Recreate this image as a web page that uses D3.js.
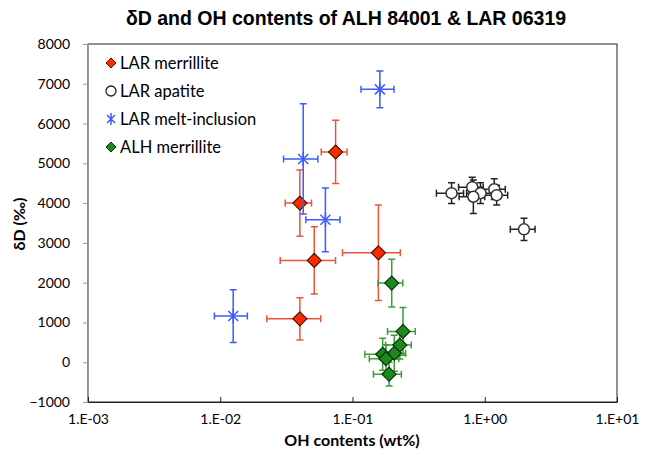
<!DOCTYPE html>
<html>
<head>
<meta charset="utf-8">
<script src="https://cdn.jsdelivr.net/npm/d3@7"></script>
<style>
  body { margin: 0; background: #fff; }
  text { font-family: Lato, "Open Sans", sans-serif; }
</style>
</head>
<body>
<script>
// Datos: contenido de OH (wt%) y δD (‰) con sus errores.
var larMerOH     = [0.0745, 0.040, 0.0514, 0.040, 0.157];
var larMerOHErr  = [0.0165, 0.009, 0.023, 0.0175, 0.073];
var larMerDD     = [5285, 4000, 2560, 1090, 2750];
var larMerDDErr  = [795, 830, 845, 530, 1200];

var larApOH      = [0.561, 0.804, 0.929, 0.82, 1.18, 1.23, 1.98];
var larApOHErr   = [0.13, 0.17, 0.2, 0.18, 0.25, 0.26, 0.42];
var larApDD      = [4250, 4400, 4250, 4160, 4350, 4200, 3340];
var larApDDErr   = [260, 250, 260, 420, 260, 250, 280];

var larMeltOH    = [0.161, 0.0424, 0.0624, 0.01253];
var larMeltOHErr = [0.045, 0.0123, 0.018, 0.0035];
var larMeltDD    = [6860, 5110, 3580, 1160];
var larMeltDDErr = [460, 1385, 800, 665];

var alhMerOH     = [0.198, 0.241, 0.228, 0.207, 0.169, 0.179, 0.189];
var alhMerOHErr  = [0.042, 0.057, 0.05, 0.045, 0.045, 0.045, 0.045];
var alhMerDD     = [1990, 775, 430, 225, 200, 90, -300];
var alhMerDDErr  = [600, 600, 350, 450, 400, 350, 300];

var xTicks      = [1e-3, 1e-2, 1e-1, 1e0, 1e1];
var xTickLabels = ['1.E-03', '1.E-02', '1.E-01', '1.E+00', '1.E+01'];
var yTicks      = [-1000, 0, 1000, 2000, 3000, 4000, 5000, 6000, 7000, 8000];

var WIDTH = 645, HEIGHT = 455;
var LEFT = 88, RIGHT = 617, TOP = 44, BOTTOM = 402;

var svg = d3.select('body').append('svg')
            .attr('width', WIDTH)
            .attr('height', HEIGHT);

var x = d3.scaleLog().domain([1e-3, 1e1]).range([LEFT, RIGHT]);
var y = d3.scaleLinear().domain([-1000, 8000]).range([BOTTOM, TOP]);

// Título
svg.append('text')
   .attr('x', 346).attr('y', 25)
   .attr('text-anchor', 'middle')
   .style('font-family', '"Liberation Sans", Arial, sans-serif')
   .style('font-weight', 'bold')
   .style('font-size', '19.5px')
   .text('δD and OH contents of ALH 84001 & LAR 06319');

// Marco del área de trazado
svg.append('rect')
   .attr('x', LEFT).attr('y', TOP)
   .attr('width', RIGHT - LEFT).attr('height', BOTTOM - TOP)
   .attr('fill', 'none').attr('stroke', '#222').attr('stroke-width', 1);

// Eje Y
var yAxis = svg.append('g')
   .attr('transform', 'translate(' + LEFT + ',0)')
   .call(d3.axisLeft(y).tickValues(yTicks).tickFormat(d3.format('d'))
           .tickSize(5).tickPadding(13));
yAxis.select('.domain').attr('stroke', '#999');
yAxis.selectAll('line').attr('stroke', '#999');
yAxis.selectAll('text').style('font-size', '14px').style('font-family', 'Lato, sans-serif').attr('fill', '#000');

// Eje X (marcas hacia adentro)
var xAxis = svg.append('g')
   .attr('transform', 'translate(0,' + BOTTOM + ')')
   .call(d3.axisBottom(x).tickValues(xTicks)
           .tickFormat(function(d, i) { return xTickLabels[i]; })
           .tickSizeInner(-5).tickSizeOuter(0).tickPadding(12));
xAxis.select('.domain').attr('stroke', '#222');
xAxis.selectAll('line').attr('stroke', '#222');
xAxis.selectAll('text').style('font-size', '14px').style('font-family', 'Lato, sans-serif').attr('fill', '#000');

// Títulos de ejes
svg.append('text')
   .attr('x', 352).attr('y', 446)
   .attr('text-anchor', 'middle')
   .style('font-weight', 'bold').style('font-size', '16px')
   .text('OH contents (wt%)');
svg.append('text')
   .attr('transform', 'translate(25,224) rotate(-90)')
   .attr('text-anchor', 'middle')
   .style('font-weight', 'bold').style('font-size', '16px')
   .text('δD (‰)');

// Series
function zip(oh, ohErr, dd, ddErr) {
  return oh.map(function(d, i) {
    return { oh: d, ohErr: ohErr[i], dd: dd[i], ddErr: ddErr[i] };
  });
}

var series = [
  { name: 'LAR merrillite',     data: zip(larMerOH, larMerOHErr, larMerDD, larMerDDErr),
    marker: 'diamond', fill: '#ff2a00', stroke: '#4a1200', bar: '#e9553a' },
  { name: 'LAR apatite',        data: zip(larApOH, larApOHErr, larApDD, larApDDErr),
    marker: 'circle',  fill: '#fff',    stroke: '#333',    bar: '#222' },
  { name: 'LAR melt-inclusion', data: zip(larMeltOH, larMeltOHErr, larMeltDD, larMeltDDErr),
    marker: 'star',    fill: 'none',    stroke: '#3b5bff', bar: '#3b5bff' },
  { name: 'ALH merrillite',     data: zip(alhMerOH, alhMerOHErr, alhMerDD, alhMerDDErr),
    marker: 'diamond', fill: '#1b8a1b', stroke: '#0b300b', bar: '#3c9c3c' }
];

var CAP = 3.5;

function drawMarker(g, s, cx, cy) {
  if (s.marker === 'diamond') {
    g.append('path')
     .attr('d', 'M' + cx + ',' + (cy - 7) + 'L' + (cx + 7) + ',' + cy +
                'L' + cx + ',' + (cy + 7) + 'L' + (cx - 7) + ',' + cy + 'Z')
     .attr('fill', s.fill).attr('stroke', s.stroke).attr('stroke-width', 1.2);
  } else if (s.marker === 'circle') {
    g.append('circle').attr('cx', cx).attr('cy', cy).attr('r', 5.5)
     .attr('fill', s.fill).attr('stroke', s.stroke).attr('stroke-width', 1.5);
  } else {
    var r = 5;
    g.append('path')
     .attr('d', 'M' + (cx - r) + ',' + (cy - r) + 'L' + (cx + r) + ',' + (cy + r) +
                'M' + (cx - r) + ',' + (cy + r) + 'L' + (cx + r) + ',' + (cy - r) +
                'M' + cx + ',' + (cy - 7) + 'L' + cx + ',' + (cy + 7))
     .attr('stroke', s.stroke).attr('stroke-width', 1.5).attr('fill', 'none');
  }
}

series.forEach(function(s) {
  var g = svg.append('g');
  s.data.forEach(function(d) {
    var cx = x(d.oh), cy = y(d.dd);
    var x0 = x(d.oh - d.ohErr), x1 = x(d.oh + d.ohErr);
    var y0 = y(d.dd - d.ddErr), y1 = y(d.dd + d.ddErr);
    var p = 'M' + x0 + ',' + cy + 'L' + x1 + ',' + cy +
            'M' + x0 + ',' + (cy - CAP) + 'L' + x0 + ',' + (cy + CAP) +
            'M' + x1 + ',' + (cy - CAP) + 'L' + x1 + ',' + (cy + CAP) +
            'M' + cx + ',' + y0 + 'L' + cx + ',' + y1 +
            'M' + (cx - CAP) + ',' + y0 + 'L' + (cx + CAP) + ',' + y0 +
            'M' + (cx - CAP) + ',' + y1 + 'L' + (cx + CAP) + ',' + y1;
    g.append('path').attr('d', p).attr('stroke', s.bar)
     .attr('stroke-width', 1.5).attr('fill', 'none');
  });
  s.data.forEach(function(d) { drawMarker(g, s, x(d.oh), y(d.dd)); });
});

// Leyenda
var legend = svg.append('g');
series.forEach(function(s, i) {
  var ly = 63 + i * 28;
  if (s.marker === 'diamond') {
    legend.append('path')
      .attr('d', 'M111,' + (ly - 5) + 'L116,' + ly + 'L111,' + (ly + 5) + 'L106,' + ly + 'Z')
      .attr('fill', s.fill).attr('stroke', s.stroke).attr('stroke-width', 1);
  } else if (s.marker === 'circle') {
    legend.append('circle').attr('cx', 111).attr('cy', ly).attr('r', 5)
      .attr('fill', '#fff').attr('stroke', '#222').attr('stroke-width', 1.3);
  } else {
    legend.append('path')
      .attr('d', 'M107,' + (ly - 4) + 'L115,' + (ly + 4) + 'M107,' + (ly + 4) + 'L115,' + (ly - 4) +
                 'M111,' + (ly - 6) + 'L111,' + (ly + 6))
      .attr('stroke', s.stroke).attr('stroke-width', 1.5);
  }
  legend.append('text')
    .attr('x', 120).attr('y', ly).attr('dy', '0.35em')
    .style('font-size', '16.5px')
    .text(s.name);
});
</script>
</body>
</html>
